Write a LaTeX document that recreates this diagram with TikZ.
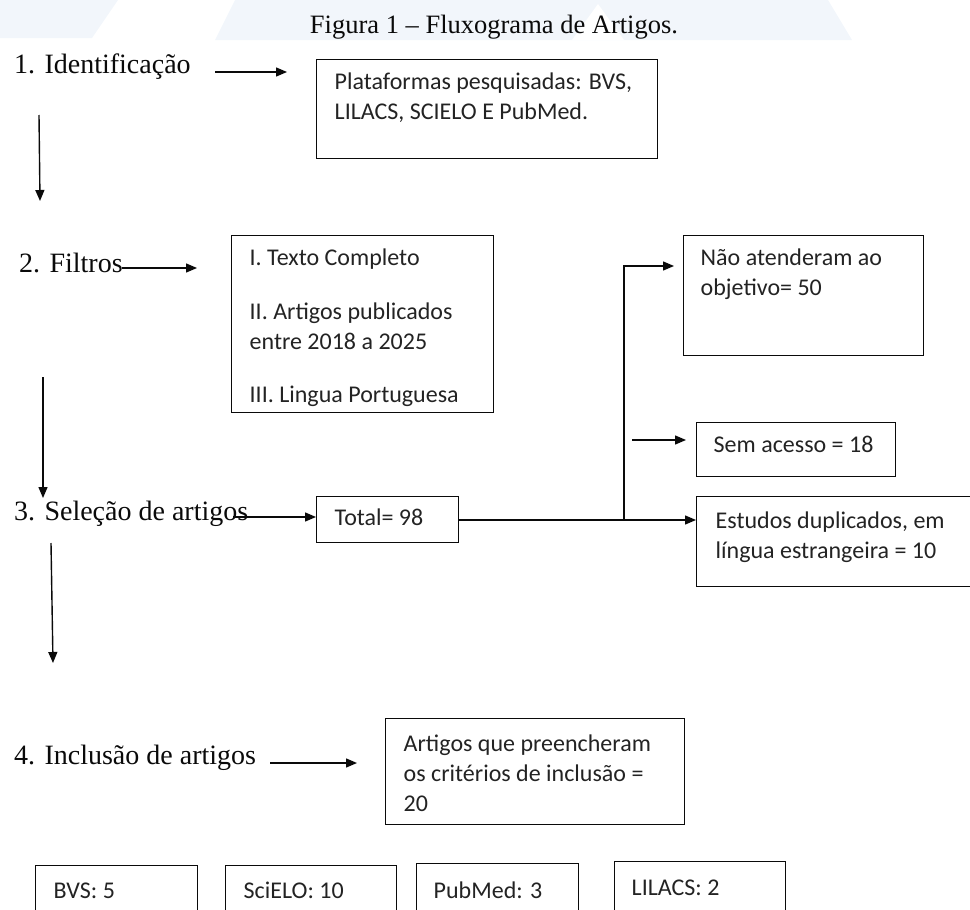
\documentclass[tikz,border=0pt]{standalone}
\usepackage{fontspec}
\setmainfont{Liberation Serif}
\newfontfamily\boxfont{Carlito}
\usetikzlibrary{arrows.meta}
\definecolor{wm}{RGB}{242,246,251}
\definecolor{ink}{RGB}{10,10,10}
\definecolor{boxink}{RGB}{35,35,35}
\newcommand\bxt[5]{\parbox[c][#2pt][t]{#1pt}{\raggedright\leftskip=#3pt\rule{0pt}{#4pt}#5}}
\begin{document}
\begin{tikzpicture}[x=1pt,y=-1pt,
  lbl/.style={anchor=base west, inner sep=0, font=\fontsize{28}{32}\selectfont, text=ink},
  stepbox/.style={draw=ink, line width=1.4pt, inner sep=0, anchor=north west,
    font=\boxfont\fontsize{24}{30}\selectfont, text=boxink},
  arr/.style={draw=ink, line width=1.4pt, -{Triangle[length=11pt,width=9pt]}},
  ln/.style={draw=ink, line width=1.4pt}]
\useasboundingbox (0,0) rectangle (970,910);
\clip (0,0) rectangle (970,910);
% faint watermark band
\fill[wm] (0,0) -- (118,0) -- (92,38) -- (0,38) -- cycle;
\fill[wm] (235,0) -- (828,0) -- (852,40) -- (215,40) -- cycle;
\fill[white] (572,40) -- (598,4) -- (624,40) -- cycle;

% title
\node[anchor=base, inner sep=0, font=\fontsize{26.5}{30}\selectfont, text=ink] (title) at (494,34) {Figura 1 -- Fluxograma de Artigos.};

% stage labels
\node[lbl] (L1) at (14,73) {1. Identificação};
\node[lbl] (L2) at (19,272) {2. Filtros};
\node[lbl] (L3) at (14,520) {3. Seleção de artigos};
\node[lbl] (L4) at (14,764) {4. Inclusão de artigos};

% boxes
\node[stepbox] (plat) at (316,59) {\bxt{341}{99}{18}{30}{Plataformas pesquisadas: BVS,\\LILACS, SCIELO E PubMed.}};
\node[stepbox] (filt) at (231,235) {\bxt{262}{177}{18}{30}{I. Texto Completo\\[24pt]II. Artigos publicados\\entre 2018 a 2025\\[23pt]III. Lingua Portuguesa}};
\node[stepbox] (nao) at (683,235) {\bxt{240}{120}{17}{30}{Não atenderam ao\\objetivo= 50}};
\node[stepbox] (sem) at (696,422) {\bxt{199}{54}{17}{30}{Sem acesso = 18}};
\node[stepbox] (total) at (316,496) {\bxt{142}{46}{18}{29}{Total= 98}};
\node[stepbox] (estud) at (696,496) {\bxt{290}{90}{19}{32}{Estudos duplicados, em\\língua estrangeira = 10}};
\node[stepbox] (incl) at (385,718) {\bxt{299}{106}{18}{33}{Artigos que preencheram\\os critérios de inclusão =\\20}};
\node[stepbox] (bvs) at (35,865) {\bxt{162}{70}{18}{33}{BVS: 5}};
\node[stepbox] (scielo) at (225,865) {\bxt{171}{70}{18}{33}{SciELO: 10}};
\node[stepbox] (pubmed) at (416,863) {\bxt{162}{70}{17}{35}{PubMed: 3}};
\node[stepbox] (lilacs) at (614,861) {\bxt{171}{70}{17}{34}{LILACS: 2}};

% connector end points
\coordinate (a1s) at (215,72);  \coordinate (a1e) at (287,72);
\coordinate (d1s) at (39,115);  \coordinate (d1e) at (40,201);
\coordinate (a2s) at (122,268); \coordinate (a2e) at (197,268);
\coordinate (d2s) at (43,377);  \coordinate (d2e) at (43,498);
\coordinate (a3s) at (233,517);
\coordinate (d3s) at (51,543);  \coordinate (d3e) at (53,663);
\coordinate (a4s) at (270,763); \coordinate (a4e) at (357,763);
\coordinate (j) at (624,520);
\coordinate (jt) at (624,266);
\coordinate (s1) at (632,440);

% connectors
\draw[arr] (a1s) -- (a1e);
\draw[arr] (d1s) -- (d1e);
\draw[arr] (a2s) -- (a2e);
\draw[arr] (d2s) -- (d2e);
\draw[arr] (a3s) -- (a3s -| total.west);
\draw[arr] (d3s) -- (d3e);
\draw[arr] (a4s) -- (a4e);
\draw[ln] (total.east |- j) -- (j);
\draw[arr] (j) -- (j -| estud.west);
\draw[arr, shorten >=9pt] (j) -- (jt) -- (jt -| nao.west);
\draw[arr, shorten >=10pt] (s1) -- (s1 -| sem.west);
\end{tikzpicture}
\end{document}
